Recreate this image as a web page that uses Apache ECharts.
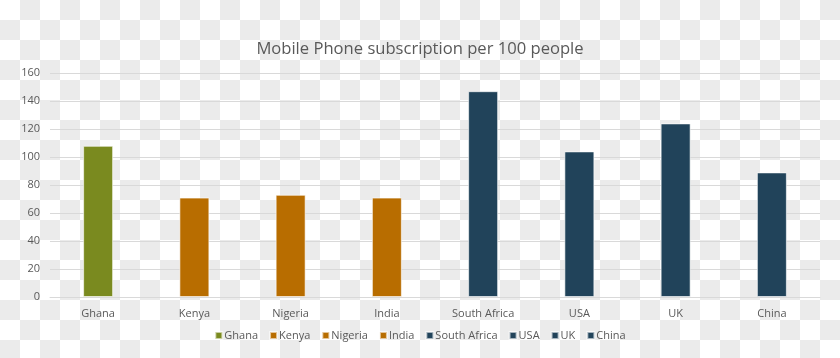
<!DOCTYPE html>
<html><head><meta charset="utf-8">
<script src="https://cdn.jsdelivr.net/npm/echarts@6/dist/echarts.min.js"></script>
<style>
html,body{margin:0;padding:0;}
#c{width:840px;height:358px;background:repeating-conic-gradient(#ebebeb 0% 25%, #ffffff 0% 50%) 0 0 / 40px 40px;}
</style></head>
<body><div id="c"></div>
<script>
const categories = ['Ghana','Kenya','Nigeria','India','South Africa','USA','UK','China'];
const values = [108, 71, 73, 71, 147, 104, 124, 89];
const barColors = ['#7a8a1f','#b86d00','#b86d00','#b86d00','#21435a','#21435a','#21435a','#21435a'];
const yTicks = {min:0, max:160, interval:20};
const titleText = 'Mobile Phone subscription per 100 people';

const series = categories.map((name, i) => ({
  name: name,
  type: 'bar',
  stack: 'all',
  barWidth: 30,
  data: categories.map((c, j) => j === i ? values[i] : '-'),
  itemStyle: {color: barColors[i], borderColor: 'rgba(255,255,255,0.6)', borderWidth: 1},
  emphasis: {disabled: true}
}));

const chart = echarts.init(document.getElementById('c'));
chart.setOption({
  animation: false,
  backgroundColor: 'transparent',
  textStyle: {fontFamily: 'Open Sans'},
  title: {text: titleText, left: 'center', top: 36,
    textStyle: {fontSize: 16.6, fontWeight: 'normal', color: '#595959', fontFamily: 'Open Sans'}},
  legend: {bottom: 12, left: 'center', icon: 'rect', itemWidth: 7, itemHeight: 7, itemGap: 11,
    textStyle: {fontSize: 11, color: '#595959', padding: [0,0,0,-3]},
    data: categories},
  grid: {left: 50, right: 20, top: 73, bottom: 61, containLabel: false},
  xAxis: {type: 'category', data: categories,
    axisLine: {lineStyle: {color: '#d9d9d9'}}, axisTick: {show: false},
    axisLabel: {color: '#595959', fontSize: 11, margin: 11}},
  yAxis: {type: 'value', min: yTicks.min, max: yTicks.max, interval: yTicks.interval,
    axisLine: {show: false}, axisTick: {show: false},
    axisLabel: {color: '#595959', fontSize: 11, margin: 10},
    splitLine: {lineStyle: {color: '#d9d9d9'}}},
  series: series
});
</script></body></html>
